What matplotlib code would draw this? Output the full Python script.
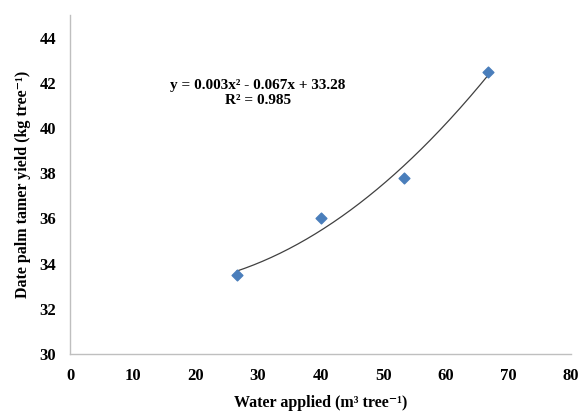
import numpy as np
import matplotlib.pyplot as plt

plt.rcParams['font.family'] = ['Liberation Serif', 'DejaVu Serif']
plt.rcParams['font.weight'] = 'bold'

# data
water = [26.7, 40.0, 53.3, 66.7]
yield_kg = [33.5, 36.0, 37.8, 42.5]
x_ticks = [0, 10, 20, 30, 40, 50, 60, 70, 80]
y_ticks = [30, 32, 34, 36, 38, 40, 42, 44]

fig = plt.figure(figsize=(5.81, 4.19), dpi=100)
ax = fig.add_axes([0.1205, 0.155, 0.8625, 0.809])

# quadratic trend line over the data range
coef = np.polyfit(water, yield_kg, 2)
xs = np.linspace(min(water), max(water), 200)
ax.plot(xs, np.polyval(coef, xs), color='#404040', lw=0.9, zorder=2)

ax.scatter(water, yield_kg, marker='D', s=30, color='#4a7ebb', zorder=3)

ax.set_xlim(0, 80)
ax.set_ylim(30, 45)
ax.set_xticks(x_ticks)
ax.set_yticks(y_ticks)
ax.tick_params(length=0, labelsize=12, pad=10)
for lab in ax.get_xticklabels() + ax.get_yticklabels():
    lab.set_fontweight('bold')

for s in ['top', 'right']:
    ax.spines[s].set_visible(False)
for s in ['left', 'bottom']:
    ax.spines[s].set_color('#bfbfbf')
    ax.spines[s].set_linewidth(1.0)

ax.text(30, 41.9, 'y = 0.003x² - 0.067x + 33.28', ha='center', va='center',
        fontsize=11, fontweight='bold')
ax.text(30, 41.2, 'R² = 0.985', ha='center', va='center',
        fontsize=11, fontweight='bold')

ax.set_xlabel('Water applied (m³ tree⁻¹)', fontsize=11.5, fontweight='bold', labelpad=8)
ax.set_ylabel('Date palm tamer yield (kg tree⁻¹)', fontsize=11.5, fontweight='bold', labelpad=6)

fig.savefig('out.png', dpi=100)
